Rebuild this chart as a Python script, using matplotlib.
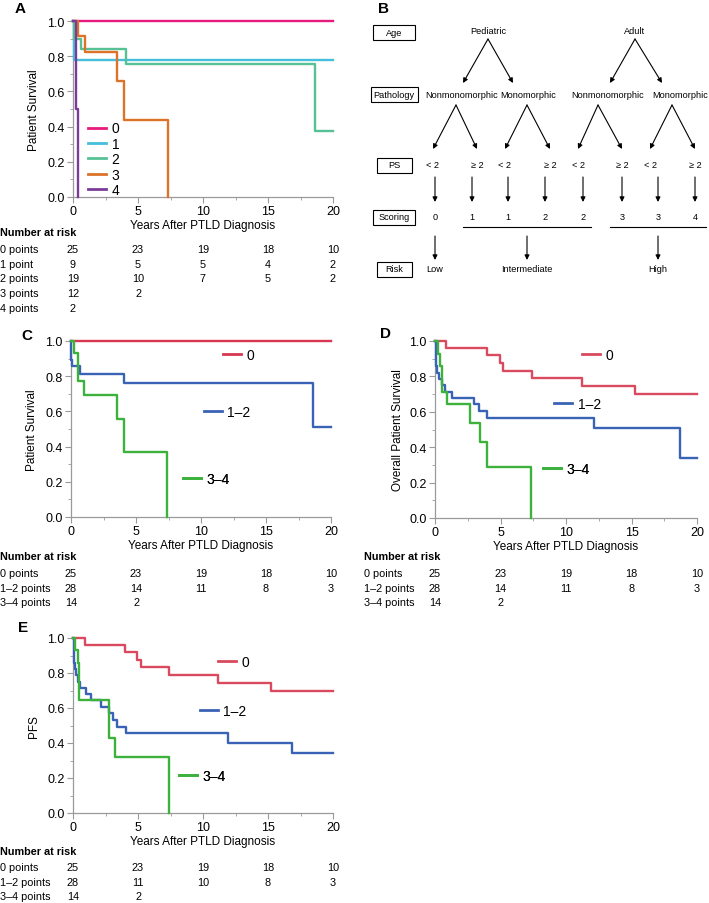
import matplotlib
matplotlib.use("Agg")
import matplotlib.pyplot as plt
from matplotlib.patches import Rectangle
from matplotlib.lines import Line2D
from matplotlib.ticker import MultipleLocator
import matplotlib.transforms as mtransforms

plt.rcParams['font.family'] = ['Liberation Sans', 'DejaVu Sans']

W, H = 709, 904

# ---------------- data ----------------
# panel A: survival by score (0..4)
a_labels = ['0', '1', '2', '3', '4']
a_colors = ['#e8197d', '#45bfdc', '#55c195', '#dd7328', '#7b3b98']
a_t0, a_s0 = [0, 20], [1.0, 1.0]
a_t1, a_s1 = [0, 0.05, 20], [1.0, 0.778, 0.778]
a_t2, a_s2 = [0, 0.1, 0.6, 4.05, 18.6, 20], [1.0, 0.895, 0.842, 0.754, 0.377, 0.377]
a_t3, a_s3 = [0, 0.4, 0.95, 3.4, 3.9, 7.3], [1.0, 0.917, 0.825, 0.66, 0.44, 0.0]
a_t4, a_s4 = [0, 0.25, 0.4], [1.0, 0.5, 0.0]

# panels C, D, E: risk groups
grp_labels = ['0', '1\u20132', '3\u20134']
grp_colors = ['#d8374f', '#3a63b6', '#3cb23c']
d_red = '#d94a5f'

c_t0, c_s0 = [0, 20], [1.0, 1.0]
c_t1, c_s1 = [0, 0.03, 0.1, 0.7, 4.05, 18.6, 20], [1.0, 0.893, 0.857, 0.815, 0.76, 0.51, 0.51]
c_t2, c_s2 = [0, 0.25, 0.5, 1.0, 3.5, 4.05, 7.35], [1.0, 0.929, 0.772, 0.695, 0.556, 0.371, 0.0]

d_t0 = [0, 0.85, 3.95, 4.95, 5.2, 7.4, 11.2, 15.3, 20]
d_s0 = [1.0, 0.96, 0.92, 0.876, 0.832, 0.789, 0.745, 0.70, 0.70]
d_t1 = [0, 0.05, 0.15, 0.3, 0.55, 0.75, 1.3, 2.95, 3.35, 4.0, 12.1, 18.7, 20]
d_s1 = [1.0, 0.857, 0.821, 0.786, 0.75, 0.714, 0.679, 0.643, 0.607, 0.566, 0.51, 0.34, 0.34]
d_t2 = [0, 0.2, 0.35, 0.5, 0.9, 2.65, 3.45, 3.95, 7.35]
d_s2 = [1.0, 0.929, 0.857, 0.714, 0.643, 0.536, 0.429, 0.286, 0.0]

e_t0 = [0, 0.9, 4.0, 4.95, 5.2, 7.4, 11.15, 15.2, 20]
e_s0 = [1.0, 0.962, 0.918, 0.876, 0.832, 0.789, 0.743, 0.699, 0.699]
e_t1 = [0, 0.05, 0.15, 0.25, 0.4, 0.5, 1.0, 1.35, 2.15, 2.8, 3.1, 3.35, 4.05, 11.95, 16.85, 20]
e_s1 = [1.0, 0.857, 0.821, 0.786, 0.75, 0.714, 0.679, 0.643, 0.607, 0.571, 0.531, 0.493, 0.455, 0.40, 0.345, 0.345]
e_t2 = [0, 0.15, 0.35, 0.45, 2.75, 3.2, 7.35]
e_s2 = [1.0, 0.929, 0.857, 0.643, 0.429, 0.321, 0.0]

risk_times = [0, 5, 10, 15, 20]
a_risk_rows = ['0 points', '1 point', '2 points', '3 points', '4 points']
a_risk = [[25, 23, 19, 18, 10], [9, 5, 5, 4, 2], [19, 10, 7, 5, 2], [12, 2], [2]]
grp_risk_rows = ['0 points', '1\u20132 points', '3\u20134 points']
c_risk = [[25, 23, 19, 18, 10], [28, 14, 11, 8, 3], [14, 2]]
d_risk = [[25, 23, 19, 18, 10], [28, 14, 11, 8, 3], [14, 2]]
e_risk = [[25, 23, 19, 18, 10], [28, 11, 10, 8, 3], [14, 2]]

# panel B: scoring tree
tree_rows = ['Age', 'Pathology', 'PS', 'Scoring', 'Risk']
age_groups = ['Pediatric', 'Adult']
pathology = ['Nonmonomorphic', 'Monomorphic', 'Nonmonomorphic', 'Monomorphic']
ps_levels = ['< 2', '\u2265 2', '< 2', '\u2265 2', '< 2', '\u2265 2', '< 2', '\u2265 2']
scores = ['0', '1', '1', '2', '2', '3', '3', '4']
risk_groups = ['Low', 'Intermediate', 'High']

# ---------------- figure ----------------
fig = plt.figure(figsize=(W / 100, H / 100), dpi=100)


def add_ax(l, r, t, b):
    return fig.add_axes([l / W, 1 - b / H, (r - l) / W, (b - t) / H])


def style(ax, ylabel, ypad):
    for s in ['top', 'right']:
        ax.spines[s].set_visible(False)
    for s in ['left', 'bottom']:
        ax.spines[s].set_color('#9a9a9a')
        ax.spines[s].set_linewidth(0.9)
    ax.set_xlim(0, 20)
    ax.set_ylim(0, 1)
    ax.xaxis.set_major_locator(MultipleLocator(5))
    ax.xaxis.set_minor_locator(MultipleLocator(2.5))
    ax.yaxis.set_major_locator(MultipleLocator(0.2))
    ax.yaxis.set_minor_locator(MultipleLocator(0.1))
    ax.yaxis.set_major_formatter(matplotlib.ticker.FormatStrFormatter('%.1f'))
    ax.tick_params(which='major', length=4, color='#9a9a9a', labelsize=9, pad=2)
    ax.tick_params(which='minor', length=2, color='#9a9a9a')
    ax.set_xlabel('Years After PTLD Diagnosis', fontsize=8.5, labelpad=1.5)
    ax.set_ylabel(ylabel, fontsize=8.5, labelpad=ypad)


def curves(ax, series, colors):
    for (t, s), c in zip(series, colors):
        ax.step(t, s, where='post', color=c, lw=1.7, clip_on=False, zorder=3)


def group_legend(ax, colors, pos):
    for lab, c, (x, y) in zip(grp_labels, colors, pos):
        h = Line2D([], [], color=c, lw=2)
        leg = ax.legend([h], [lab], loc='center left', bbox_to_anchor=(x, y),
                        frameon=False, handlelength=1.3, handletextpad=0.4,
                        borderpad=0, borderaxespad=0, fontsize=10)
        ax.add_artist(leg)


def risk_table(ax, x0, ytitle, ys, rows, vals):
    tr = mtransforms.blended_transform_factory(ax.transData, fig.transFigure)
    fig.text(x0 / W, 1 - ytitle / H, 'Number at risk', fontsize=7.8,
             fontweight='bold', va='center', ha='left')
    for lab, y, row in zip(rows, ys, vals):
        fig.text(x0 / W, 1 - y / H, lab, fontsize=7.8, va='center', ha='left')
        for t, v in zip(risk_times, row):
            ax.text(t, 1 - y / H, str(v), transform=tr, fontsize=7.8,
                    va='center', ha='center', clip_on=False)


# Panel A
axA = add_ax(73, 333, 22, 198)
style(axA, 'Patient Survival', 5)
curves(axA, [(a_t0, a_s0), (a_t1, a_s1), (a_t2, a_s2), (a_t3, a_s3), (a_t4, a_s4)], a_colors)
handles = [Line2D([], [], color=c, lw=2) for c in a_colors]
axA.legend(handles, a_labels, loc='lower left', bbox_to_anchor=(0.058, 0.0),
           frameon=False, handlelength=1.3, handletextpad=0.4, labelspacing=0.1,
           borderpad=0, borderaxespad=0, fontsize=10)
risk_table(axA, 0, 233, [250, 265, 279, 294, 309], a_risk_rows, a_risk)

# Panel C
axC = add_ax(71, 331, 342, 518)
style(axC, 'Patient Survival', 5)
curves(axC, [(c_t0, c_s0), (c_t1, c_s1), (c_t2, c_s2)], grp_colors)
group_legend(axC, grp_colors, [(0.585, 0.92), (0.51, 0.597), (0.43, 0.216)])
risk_table(axC, 0, 557, [574, 589, 603], grp_risk_rows, c_risk)

# Panel D
d_colors = [d_red, grp_colors[1], grp_colors[2]]
axD = add_ax(435, 697, 342, 519)
style(axD, 'Overall Patient Survival', 4)
curves(axD, [(d_t0, d_s0), (d_t1, d_s1), (d_t2, d_s2)], d_colors)
group_legend(axD, d_colors, [(0.561, 0.92), (0.454, 0.644), (0.412, 0.277)])
risk_table(axD, 364, 557, [574, 589, 603], grp_risk_rows, d_risk)

# Panel E
axE = add_ax(73, 333, 639, 814)
style(axE, 'PFS', 5)
curves(axE, [(e_t0, e_s0), (e_t1, e_s1), (e_t2, e_s2)], d_colors)
group_legend(axE, d_colors, [(0.558, 0.863), (0.488, 0.583), (0.408, 0.211)])
risk_table(axE, 0, 852, [868, 883, 897], grp_risk_rows, e_risk)

# Panel letters
for lab, x, y in [('A', 20, 9), ('B', 383, 9), ('C', 27, 336), ('D', 385, 334), ('E', 23, 628)]:
    fig.text(x / W, 1 - y / H, lab, fontsize=11, fontweight='bold', va='center', ha='center')

# Panel B: scoring tree drawn in pixel space
axB = fig.add_axes([0, 0, 1, 1])
axB.set_xlim(0, W)
axB.set_ylim(H, 0)
axB.axis('off')

fs = 6.6
box_y = [33, 95, 166, 218, 270]
box_w = [42, 47, 35, 42, 35]
for lab, y, w in zip(tree_rows, box_y, box_w):
    axB.add_patch(Rectangle((394 - w / 2, y - 7.5), w, 15, fill=False, lw=0.8, ec='black'))
    axB.text(394, y, lab, fontsize=fs, ha='center', va='center')

age_x = [488, 635]
for lab, x in zip(age_groups, age_x):
    axB.text(x, 31, lab, fontsize=fs, ha='center', va='center')

path_x = [462, 528, 608, 680]
for lab, x in zip(pathology, path_x):
    axB.text(x, 95, lab, fontsize=fs, ha='center', va='center')

ps_x = [433, 477, 505, 550, 578, 622, 650, 695]
for lab, x in zip(ps_levels, ps_x):
    axB.text(x, 165, lab, fontsize=fs, ha='center', va='center')

score_x = [435, 472, 508, 545, 583, 622, 658, 695]
for lab, x in zip(scores, score_x):
    axB.text(x, 218, lab, fontsize=fs, ha='center', va='center')

risk_x = [435, 527, 658]
for lab, x in zip(risk_groups, risk_x):
    axB.text(x, 270, lab, fontsize=fs, ha='center', va='center')


def arrow(x0, y0, x1, y1):
    axB.annotate('', xy=(x1, y1), xytext=(x0, y0),
                 arrowprops=dict(arrowstyle='-|>', color='black', lw=0.8,
                                 mutation_scale=7, shrinkA=0, shrinkB=0))


# age -> pathology
arrow(488, 40, 463, 84)
arrow(488, 40, 513, 84)
arrow(635, 40, 610, 84)
arrow(635, 40, 662, 84)
# pathology -> PS
apex = [456, 527, 598, 672]
for i, ax_ in enumerate(apex):
    arrow(ax_, 106, ps_x[2 * i], 150)
    arrow(ax_, 106, ps_x[2 * i + 1], 150)
# PS -> scoring
for x in score_x:
    arrow(x, 178, x, 203)
# scoring lines
axB.plot([463, 591], [228, 228], color='black', lw=0.8)
axB.plot([610, 706], [228, 228], color='black', lw=0.8)
# scoring -> risk
for x in risk_x:
    arrow(x, 237, x, 261)

fig.savefig('out.png', dpi=100)
